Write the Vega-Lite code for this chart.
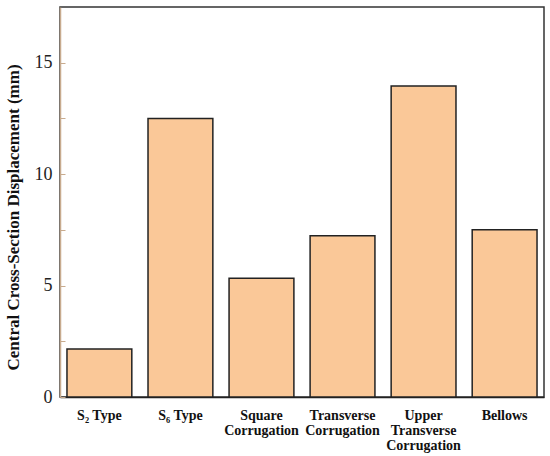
{
  "$schema": "https://vega.github.io/schema/vega-lite/v6.json",
  "width": 484,
  "height": 390,
  "autosize": {"type": "none"},
  "padding": {"left": 60, "top": 7, "right": 6, "bottom": 59},
  "background": "white",
  "config": {
    "font": "Liberation Serif",
    "view": {"stroke": "#333333", "strokeWidth": 1.5}
  },
  "data": {
    "values": [
      {"type": "S₂ Type", "displacement": 2.15},
      {"type": "S₆ Type", "displacement": 12.5},
      {"type": "Square|Corrugation", "displacement": 5.33},
      {"type": "Transverse|Corrugation", "displacement": 7.24},
      {"type": "Upper|Transverse|Corrugation", "displacement": 13.95},
      {"type": "Bellows", "displacement": 7.5}
    ]
  },
  "mark": {"type": "bar", "fill": "#FAC898", "stroke": "#222222", "strokeWidth": 1.5},
  "encoding": {
    "x": {
      "field": "type",
      "type": "nominal",
      "sort": null,
      "scale": {"paddingInner": 0.2, "paddingOuter": 0.086},
      "axis": {
        "title": null,
        "labelAngle": 0,
        "labelExpr": "split(datum.value, '|')",
        "labelFont": "Liberation Serif",
        "labelFontWeight": "bold",
        "labelFontSize": 14,
        "labelColor": "#111111",
        "labelLineHeight": 15,
        "labelPadding": 11,
        "ticks": false,
        "domainColor": "#222222",
        "domainWidth": 1.5
      }
    },
    "y": {
      "field": "displacement",
      "type": "quantitative",
      "scale": {"domain": [0, 17.5], "nice": false},
      "axis": {
        "title": "Central Cross-Section Displacement (mm)",
        "titleFont": "Liberation Serif",
        "titleFontWeight": "bold",
        "titleFontSize": 17,
        "titleColor": "#111111",
        "titleX": -42,
        "titleY": 210,
        "titleBaseline": "alphabetic",
        "values": [0, 2.5, 5, 7.5, 10, 12.5, 15],
        "labelExpr": "datum.value % 5 === 0 ? datum.label : ''",
        "labelFont": "Liberation Serif",
        "labelFontSize": 18,
        "labelColor": "#222222",
        "labelPadding": 13,
        "grid": false,
        "tickSize": -5,
        "tickColor": "#c8ab8e",
        "domainColor": "#c8ab8e",
        "domainWidth": 1.5
      }
    }
  }
}
